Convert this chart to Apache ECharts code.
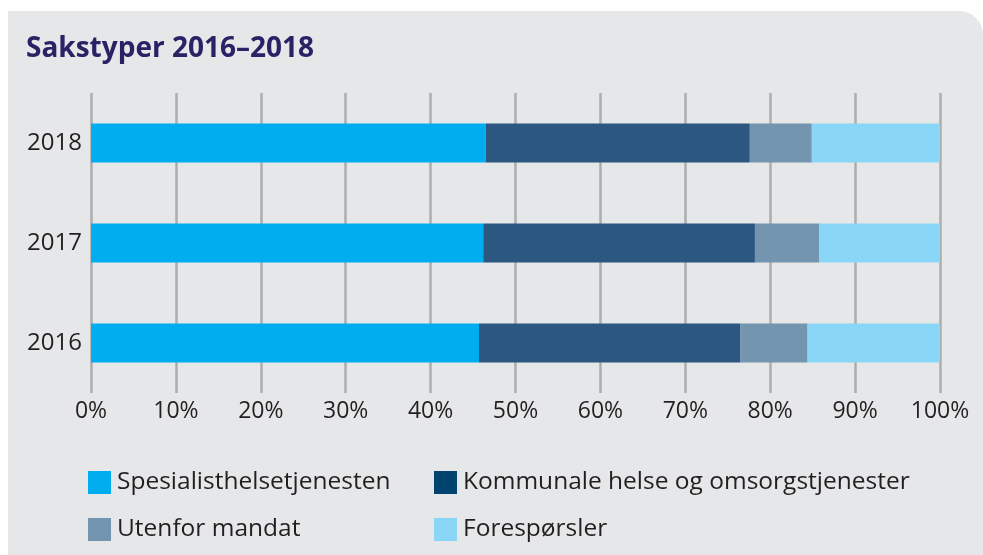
<!DOCTYPE html>
<html>
<head>
<meta charset="utf-8">
<script src="https://cdn.jsdelivr.net/npm/echarts@6/dist/echarts.min.js"></script>
<style>
html,body{margin:0;padding:0;background:#ffffff;}
#chart{width:983px;height:555px;}
</style>
</head>
<body>
<div id="chart"></div>
<script>
const years = ['2016', '2017', '2018'];
const spesialist = [45.7, 46.2, 46.5];
const kommunale = [30.8, 32.0, 31.1];
const utenfor = [7.9, 7.6, 7.3];
const foresporsler = [15.6, 14.2, 15.1];
const seriesNames = ['Spesialisthelsetjenesten', 'Kommunale helse og omsorgstjenester', 'Utenfor mandat', 'Forespørsler'];
const titleText = 'Sakstyper 2016–2018';

const FONT = 'Open Sans';
const TXT = '#231f20';
const colors = ['#00aeef', '#2b5780', '#7395b0', '#8ad6f6'];

const chart = echarts.init(document.getElementById('chart'), null, {renderer: 'canvas'});
const seriesData = [spesialist, kommunale, utenfor, foresporsler];

const option = {
  animation: false,
  backgroundColor: '#ffffff',
  graphic: [{
    type: 'rect',
    z: -10,
    silent: true,
    shape: {x: 8, y: 11, width: 975, height: 544, r: [0, 24, 0, 0]},
    style: {fill: '#e6e7e9'}
  }],
  title: {
    text: titleText,
    left: 21,
    top: 30,
    textStyle: {fontFamily: FONT, fontWeight: 'bold', fontSize: 28, color: '#2b2266'}
  },
  legend: [{
    orient: 'vertical',
    left: 83,
    top: 465,
    itemWidth: 23,
    itemHeight: 23,
    itemGap: 22,
    icon: 'rect',
    data: [{name: seriesNames[0]}, {name: seriesNames[2]}],
    textStyle: {fontFamily: FONT, fontSize: 24.5, color: TXT, padding: [0, 0, 0, 1], lineHeight: 23}
  }, {
    orient: 'vertical',
    left: 429,
    top: 465,
    itemWidth: 23,
    itemHeight: 23,
    itemGap: 22,
    icon: 'rect',
    data: [{name: seriesNames[1], itemStyle: {color: '#00446f'}}, {name: seriesNames[3]}],
    textStyle: {fontFamily: FONT, fontSize: 24.5, color: TXT, padding: [0, 0, 0, 1], lineHeight: 23}
  }],
  grid: {left: 91, right: 43, top: 93, bottom: 162, containLabel: false},
  xAxis: {
    type: 'value',
    min: 0,
    max: 100,
    interval: 10,
    axisLine: {show: false},
    axisTick: {show: false},
    axisLabel: {formatter: '{value}%', fontFamily: FONT, fontSize: 23, color: TXT, margin: 7},
    splitLine: {show: true, lineStyle: {color: '#adadad', width: 2.5}}
  },
  yAxis: {
    type: 'category',
    data: years,
    axisLine: {show: false},
    axisTick: {show: false},
    axisLabel: {fontFamily: FONT, fontSize: 24, color: TXT, margin: 9},
    splitLine: {show: false}
  },
  series: seriesNames.map((n, i) => ({
    name: n,
    type: 'bar',
    stack: 'total',
    barWidth: 39,
    itemStyle: {color: colors[i]},
    data: seriesData[i]
  }))
};
chart.setOption(option);
</script>
</body>
</html>
